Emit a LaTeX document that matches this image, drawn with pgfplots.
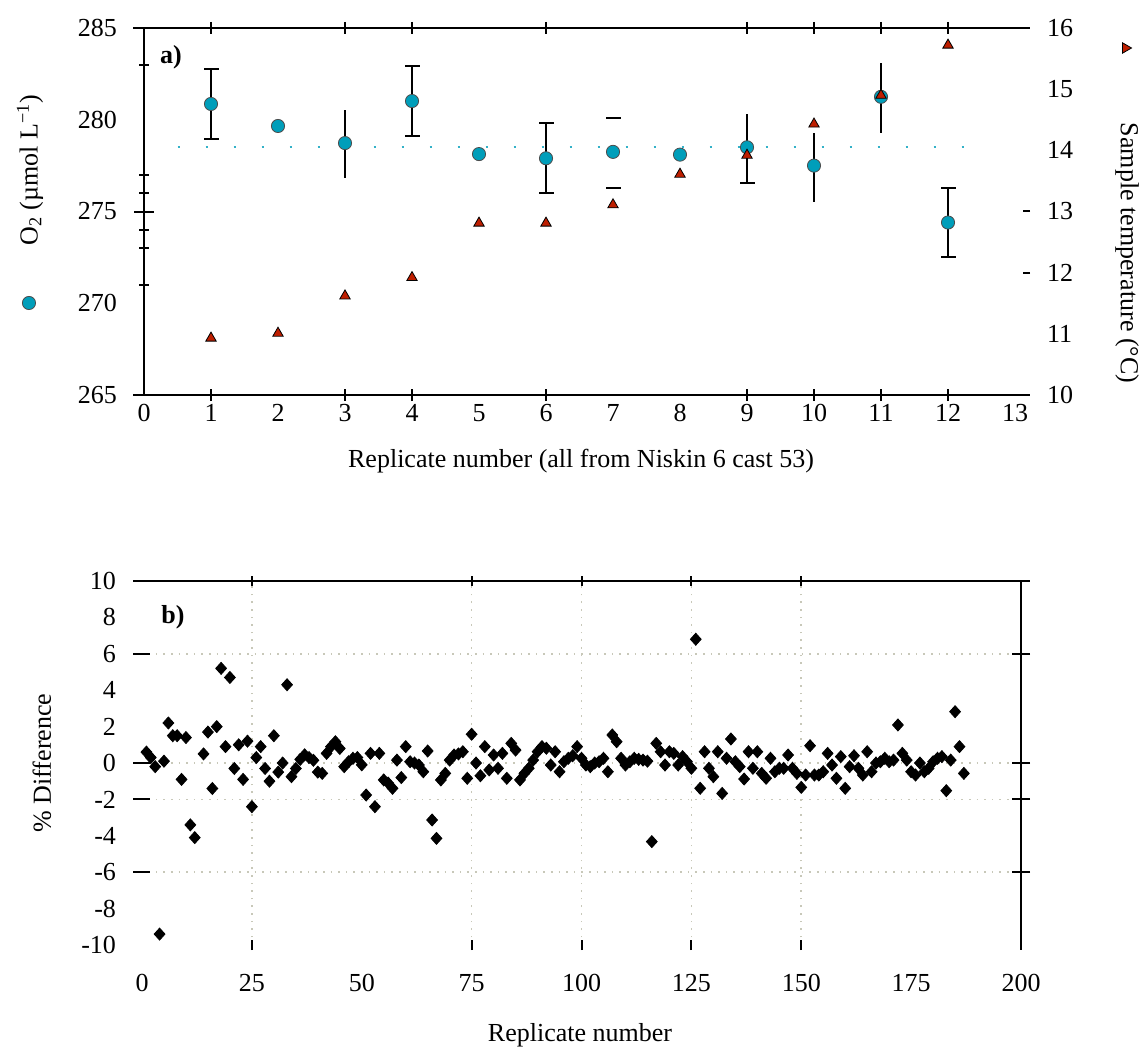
\documentclass[border=0pt]{standalone}
\usepackage{fontspec}
\setmainfont{Liberation Serif}
\usepackage{pgfplots}
\pgfplotsset{compat=1.18}
\definecolor{oxcyan}{RGB}{0,158,186}
\definecolor{tempred}{RGB}{190,30,0}
\definecolor{gridc}{RGB}{200,200,185}

% 1 px of the reference = 0.5pt
\pgfplotsset{
  base/.style={scale only axis, axis line style={draw=none}, clip=false,
    /pgf/number format/assume math mode=true,
    tick style={black, line width=1pt}},
  panela/.style={base, width=443pt, height=183.5pt, xmin=0, xmax=13.224,
    ymin=265, ymax=285, at={(72pt,-197.5pt)}, anchor=south west},
  panelb/.style={base, width=444pt, height=182pt, xmin=-2.05, xmax=200,
    ymin=-10, ymax=10, at={(66.5pt,-472.5pt)}, anchor=south west},
  gridb/.style={major grid style={gridc, line width=0.8pt, dash pattern=on 0.8pt off 3pt}},
}

\pgfplotstableread{
n d
1 0.6
2 0.3
3 -0.2
4 -9.4
5 0.1
6 2.2
7 1.5
8 1.5
9 -0.9
10 1.4
11 -3.4
12 -4.1
14 0.5
15 1.7
16 -1.4
17 2.0
18 5.2
19 0.9
20 4.7
21 -0.3
22 1.0
23 -0.9
24 1.2
25 -2.4
26 0.3
27 0.9
28 -0.3
29 -1.0
30 1.5
31 -0.5
32 0.0
33 4.3
34 -0.75
35 -0.3
36 0.2
37 0.45
38 0.3
39 0.15
40 -0.5
41 -0.57
42 0.53
43 0.9
44 1.17
45 0.8
46 -0.2
47 0.07
48 0.26
49 0.3
50 -0.1
51 -1.76
52 0.53
53 -2.4
54 0.53
55 -0.93
56 -1.1
57 -1.39
58 0.16
59 -0.8
60 0.9
61 0.07
62 0.0
63 -0.11
64 -0.48
65 0.66
66 -3.13
67 -4.14
68 -0.93
69 -0.57
70 0.16
71 0.44
72 0.5
73 0.62
74 -0.84
75 1.58
76 0.0
77 -0.7
78 0.9
79 -0.38
80 0.44
81 -0.29
82 0.53
83 -0.84
84 1.08
85 0.71
86 -0.93
87 -0.57
88 -0.29
89 0.16
90 0.62
91 0.9
92 0.81
93 -0.11
94 0.62
95 -0.48
96 0.07
97 0.26
98 0.4
99 0.9
100 0.26
101 -0.11
102 -0.2
103 0.0
104 0.07
105 0.26
106 -0.48
107 1.54
108 1.17
109 0.26
110 -0.11
111 0.07
112 0.26
113 0.2
114 0.16
115 0.1
116 -4.32
117 1.08
118 0.62
119 -0.11
120 0.62
121 0.53
122 -0.11
123 0.35
124 0.07
125 -0.29
126 6.8
127 -1.39
128 0.62
129 -0.29
130 -0.75
131 0.62
132 -1.67
133 0.26
134 1.32
135 0.07
136 -0.2
137 -0.88
138 0.62
139 -0.29
140 0.62
141 -0.57
142 -0.84
143 0.26
144 -0.48
145 -0.29
146 -0.29
147 0.44
148 -0.29
149 -0.57
150 -1.34
151 -0.66
152 0.95
153 -0.66
154 -0.66
155 -0.48
156 0.53
157 -0.11
158 -0.84
159 0.35
160 -1.39
161 -0.2
162 0.4
163 -0.29
164 -0.66
165 0.62
166 -0.48
167 0.0
168 0.07
169 0.26
170 0.07
171 0.16
172 2.09
173 0.53
174 0.16
175 -0.48
176 -0.66
177 0.0
178 -0.48
179 -0.29
180 0.07
181 0.26
182 0.35
183 -1.52
184 0.16
185 2.82
186 0.9
187 -0.57
}\diffdata

\begin{document}
\fontsize{13}{15}\selectfont
\begin{tikzpicture}
\useasboundingbox (0,0) rectangle (571.5pt,-526.5pt);

% ---------------- panel a ----------------
% x tick marks (both sides, centred)
\begin{axis}[panela, xtick={1,3,4,6,9,10,11,12}, xtick pos=both, xticklabels={},
  ytick=\empty, tick align=center, major tick length=6pt]
\end{axis}
% left y tick marks
\begin{axis}[panela, xtick=\empty, ytick={275}, minor ytick={271,273,274,276,277,283},
  ytick pos=left, yticklabels={}, tick align=center, major tick length=10pt, minor tick length=5pt]
\end{axis}

% O2 with error bars
\begin{axis}[panela, xtick={0,...,13}, ytick={265,270,...,285}, major tick length=0pt,
  xtick pos=left, ytick pos=left, yticklabel style={xshift=-9pt},
  legend style={at={(-0.1287,0.2507)}, anchor=center, draw=none, fill=none, inner sep=0pt,
    nodes={inner sep=0pt}},
  legend image code/.code={\draw[#1] plot coordinates {(0cm,0cm)};}]
\addplot[oxcyan!80!white, line width=1pt, dash pattern=on 1pt off 13pt, forget plot]
  coordinates {(0.5,278.5) (12.5,278.5)};
\addplot[only marks, mark=none, forget plot,
  error bars/.cd, y dir=both, y explicit, error mark=none,
  error bar style={draw=black, line width=1pt}]
  coordinates {(1,280.86) +- (0,1.9) (4,281.02) +- (0,1.9) (6,277.9) +- (0,1.9) (12,274.4) +- (0,1.9)
               (3,278.7) +- (0,1.85) (9,278.43) +- (0,1.88) (10,277.4) +- (0,1.9) (11,281.2) +- (0,1.9)};
% bar caps
\addplot[only marks, mark=-, mark size=3.75pt, mark options={draw=black, line width=1pt}, forget plot]
  coordinates {(1,282.76) (1,278.96) (4,282.92) (4,279.12) (6,279.8) (6,276.0)
               (12,276.3) (12,272.5) (7,280.1) (7,276.3) (9,276.55)};
\addplot[only marks, mark=*, mark size=3.3pt, mark options={fill=oxcyan, draw=black!70, line width=0.4pt}]
  coordinates {(1,280.86) (2,279.66) (3,278.73) (4,281.02) (5,278.13) (6,277.9)
               (7,278.25) (8,278.1) (9,278.5) (10,277.5) (11,281.25) (12,274.4)};
\addlegendentry{}
\draw[black, line width=1pt] ([xshift=-5.5pt]rel axis cs:0,0) -- (rel axis cs:1,0);
\draw[black, line width=1pt] ([xshift=-5.5pt]rel axis cs:0,1) -- (rel axis cs:1,1);
\draw[black, line width=1pt] (rel axis cs:0,0) -- (rel axis cs:0,1);
\end{axis}

% temperature, right axis
\begin{axis}[panela, ymin=10, ymax=16, xtick=\empty, ytick={10,...,16}, minor ytick={12,13},
  ytick pos=right, yticklabel pos=right, major tick length=0pt, minor tick length=3.5pt,
  tick align=inside, yticklabel style={xshift=4pt},
  legend style={at={(1.1106,0.9455)}, anchor=center, draw=none, fill=none, inner sep=0pt,
    nodes={inner sep=0pt}},
  legend image code/.code={\draw[#1, every mark/.append style={rotate=-90}] plot coordinates {(0cm,0cm)};}]
\addplot[only marks, mark=triangle*, mark size=3pt, mark options={fill=tempred, draw=black, line width=0.4pt}]
  coordinates {(1,10.93) (2,11.01) (3,11.62) (4,11.92) (5,12.81) (6,12.81)
               (7,13.11) (8,13.61) (9,13.92) (10,14.43) (11,14.9) (12,15.72)};
\addlegendentry{}
\end{axis}

\node[font=\bfseries] at (85.5pt,-28.5pt) {a)};
\node at (290.5pt,-230.5pt) {Replicate number (all from Niskin 6 cast 53)};
\node[rotate=90] at (15pt,-85pt) {O\textsubscript{2} (µmol L\textsuperscript{−1})};
\node[rotate=-90] at (563.5pt,-126.5pt) {Sample temperature (°C)};

% ---------------- panel b ----------------
\begin{axis}[panelb, gridb, xtick={25,75,100,125,150}, xtick pos=both, xticklabels={},
  ytick=\empty, tick align=center, major tick length=5pt, xmajorgrids]
\end{axis}
\begin{axis}[panelb, gridb, xtick=\empty, ytick={-6,-2,0,6}, ytick pos=left, yticklabels={},
  tick align=inside, major tick length=8.5pt, ymajorgrids]
\end{axis}
\begin{axis}[panelb, xtick=\empty, ytick={-6,-2,0,6}, ytick pos=right, yticklabels={},
  tick align=center, major tick length=9pt]
\end{axis}
\begin{axis}[panelb, xtick={0,25,...,200}, ytick={-10,-8,...,10}, major tick length=0pt,
  xtick pos=left, ytick pos=left, xticklabel style={yshift=-10pt}, yticklabel style={xshift=-4pt}]
\addplot[only marks, mark=diamond*, mark size=3pt, mark options={scale=1, xscale=1.2}, black] table[x=n, y=d] {\diffdata};
\draw[black, line width=1pt] (rel axis cs:0,1) -- ([xshift=4.5pt]rel axis cs:1,1);
\draw[black, line width=1pt] (rel axis cs:1,1) -- ([yshift=-2.5pt]rel axis cs:1,0);
\end{axis}

\node[font=\bfseries] at (86.5pt,-308.5pt) {b)};
\node[rotate=90] at (21pt,-381.5pt) {\% Difference};
\node at (290pt,-517.5pt) {Replicate number};
\end{tikzpicture}
\end{document}
